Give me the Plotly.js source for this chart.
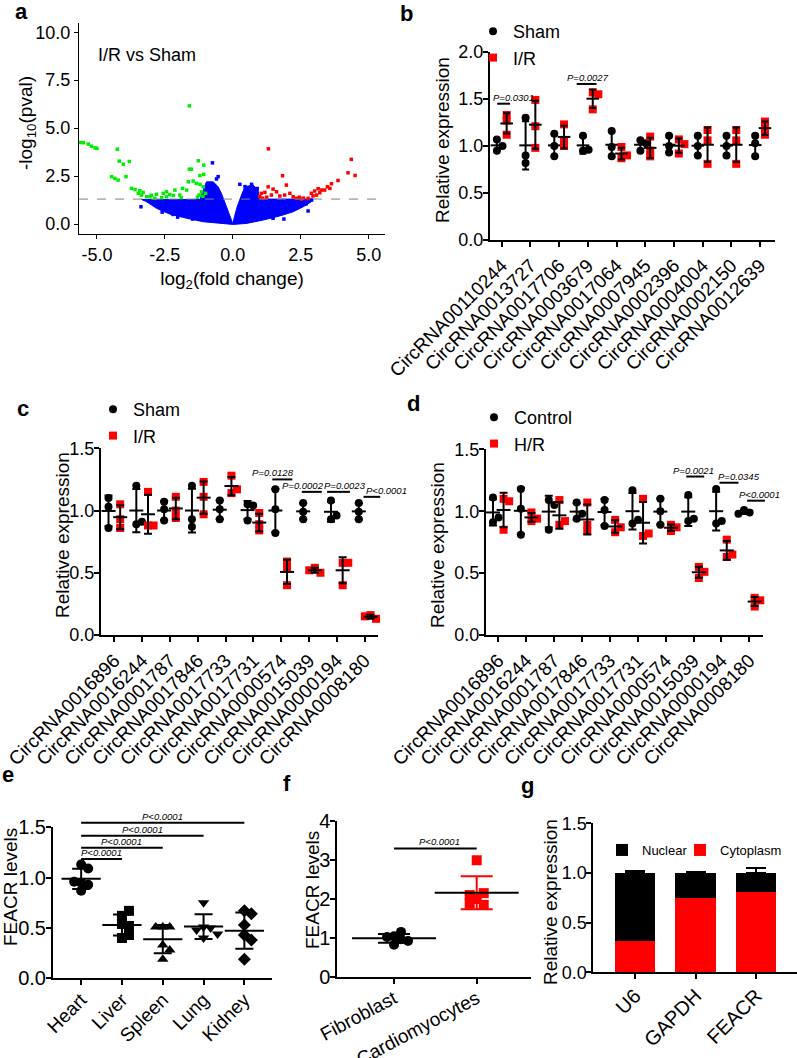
<!DOCTYPE html>
<html>
<head>
<meta charset="utf-8">
<script src="https://cdn.plot.ly/plotly-3.0.1.min.js"></script>
<style>
  html, body { margin: 0; padding: 0; background: #fff; }
  #fig { width: 797px; height: 1058px; }
</style>
</head>
<body>
<div id="fig"></div>
<script>
// ---------------- data ----------------

// a: volcano plot (I/R vs Sham)
var aTickVals = [-5, -2.5, 0, 2.5, 5];
var aTickText = ['-5.0', '-2.5', '0.0', '2.5', '5.0'];
var aYTickVals = [0, 2.5, 5, 7.5, 10];
var aYTickText = ['0.0', '2.5', '5.0', '7.5', '10.0'];
var pThreshold = 0.05;
// dense non-significant cloud, outline of the blue region
var coreX = [-3.36, -1.21, -1.09, -0.97, -0.72, -0.54, -0.42, -0.23, -0.09, 0, 0.06, 0.16, 0.32, 0.44, 0.75, 0.93, 0.99,
  2.89, 2.89, 2.59, 2.22, 1.73, 1.12, 0.50, 0, -0.48, -1.09, -1.70, -2.32, -2.81, -3.17, -3.36];
var coreY = [1.28, 1.28, 1.77, 2.20, 2.20, 1.94, 1.60, 0.90, 0.30, 0.02, 0.38, 0.90, 1.51, 1.94, 2.03, 1.77, 1.30,
  1.30, 1.16, 0.90, 0.64, 0.42, 0.21, 0.03, -0.02, 0.03, 0.12, 0.30, 0.52, 0.82, 1.16, 1.28];
var blueX = [-0.75, -0.54, 0.26, 0.69, -3.38, -2.03, -1.48, 1.88, 2.77, 1.48, -0.89, -0.97, -3.1, -2.6, -2.2, -0.6, 0.45, 0.9, 1.6, 2.3, 2.7, 2.9];
var blueY = [3.19, 2.47, 2.07, 2.07, 0.90, 0.36, 0.26, 0.26, 0.68, 0.30, 2.03, 1.94, 1.2, 0.62, 0.5, 2.35, 1.95, 1.85, 0.5, 0.9, 1.05, 1.25];
var greenX = [-5.62, -5.50, -5.32, -5.20, -5.07, -5.00, -4.25, -4.18, -4.03, -3.81, -4.46, -4.34, -4.22, -3.93, -3.73, -3.60,
  -3.42, -3.30, -3.48, -3.36, -3.17, -3.05, -2.81, -2.56, -2.44, -2.19, -1.95, -1.85, -1.64, -1.52, -1.60, -1.27, -1.07,
  -1.07, -1.21, -1.46, -1.34, -1.21, -1.09, -1.15, -1.24, -1.70, -2.13, -2.32, -2.44, -2.62, -2.87, -1.60, -1.1, -1.0, -1.3, -1.9, -3.0];
var greenY = [4.25, 4.24, 4.17, 4.06, 3.97, 3.94, 3.90, 3.28, 3.12, 3.26, 2.47, 2.38, 2.29, 2.47, 1.86, 1.80, 1.74, 1.65,
  1.60, 1.51, 1.42, 1.42, 1.55, 1.60, 1.68, 1.49, 1.51, 1.86, 2.20, 2.86, 2.86, 3.30, 3.07, 2.59, 2.53, 2.24, 2.12, 2.07,
  1.94, 1.68, 1.51, 1.77, 1.77, 1.53, 1.42, 1.37, 1.34, 6.16, 1.45, 1.6, 1.4, 1.38, 1.5];
var redX = [1.31, 4.36, 1.83, 4.24, 4.50, 3.87, 3.63, 3.48, 3.26, 3.14, 3.01, 2.89, 3.08, 2.95, 2.77, 2.52, 2.34, 1.48,
  1.30, 1.18, 1.05, 0.99, 1.61, 1.97, 2.10, 2.22, 1.91, 1.42, 1.73, 3.20, 3.38, 3.57, 1.1, 1.25, 2.6, 2.45];
var redY = [3.92, 3.37, 2.52, 2.67, 2.53, 2.27, 2.10, 1.94, 1.77, 1.84, 1.72, 1.60, 1.51, 1.46, 1.34, 1.30, 1.34, 1.82,
  1.94, 1.65, 1.60, 1.42, 1.68, 2.03, 1.60, 1.42, 1.51, 1.51, 1.46, 1.63, 1.77, 1.86, 1.35, 1.4, 1.35, 1.4];

// b: candidate circRNAs, Sham vs I/R (3 mice each)
var bCats = ['CircRNA00110244', 'CircRNA0013727', 'CircRNA0017706', 'CircRNA0003679', 'CircRNA0017064',
  'CircRNA0007945', 'CircRNA0002396', 'CircRNA0004004', 'CircRNA0002150', 'CircRNA0012639'];
var bSham = [[0.95, 1.07, 1.00], [1.30, 0.82, 0.90], [1.13, 1.00, 0.89], [1.11, 0.95, 0.96], [1.16, 0.89, 0.99],
  [1.06, 0.95, 1.03], [1.11, 0.93, 1.00], [1.11, 1.00, 0.90], [1.11, 1.00, 0.90], [1.11, 1.03, 0.89]];
var bIR = [[1.33, 1.27, 1.12], [1.49, 1.21, 0.98], [1.23, 1.06, 1.00], [1.57, 1.55, 1.39], [0.99, 0.87, 0.90],
  [1.10, 0.89, 0.95], [1.07, 0.92, 1.02], [1.17, 1.06, 0.81], [1.17, 1.06, 0.81], [1.26, 1.12, 1.19]];
var bSigGroup = [0, 3];
var bSigLevel = [1.45, 1.66];
var bSigText = ['P=0.0301', 'P=0.0027'];

// c: second set, Sham vs I/R
var cCats = ['CircRNA0016896', 'CircRNA0016244', 'CircRNA0001787', 'CircRNA0017846', 'CircRNA0017733',
  'CircRNA0017731', 'CircRNA0000574', 'CircRNA0015039', 'CircRNA0000194', 'CircRNA0008180'];
var cSham = [[1.10, 1.03, 0.86], [1.20, 0.89, 0.91], [1.07, 0.92, 1.01], [1.20, 0.87, 0.93], [1.08, 0.93, 1.01],
  [1.05, 0.92, 1.04], [1.17, 1.01, 0.82], [1.06, 0.93, 0.99], [1.08, 0.93, 0.96], [1.06, 0.93, 0.99]];
var cIR = [[1.05, 0.86, 0.93], [1.15, 0.88, 0.88], [1.11, 0.94, 1.00], [1.23, 1.11, 0.97], [1.28, 1.14, 1.17],
  [0.98, 0.84, 0.89], [0.59, 0.53, 0.40], [0.54, 0.50, 0.52], [0.58, 0.40, 0.58], [0.16, 0.13, 0.15]];
var cSigGroup = [6, 7, 8, 9];
var cSigLevel = [1.25, 1.15, 1.15, 1.11];
var cSigText = ['P=0.0128', 'P=0.0002', 'P=0.0023', 'P<0.0001'];

// d: same circRNAs, Control vs H/R cells
var dCtrl = [[1.11, 0.91, 0.95], [1.18, 1.02, 0.81], [1.09, 1.05, 0.85], [1.07, 0.94, 0.98], [1.09, 1.01, 0.88],
  [1.17, 0.90, 0.93], [1.10, 1.00, 0.89], [1.13, 0.92, 0.94], [1.18, 0.90, 0.92], [1.01, 0.99, 0.98]];
var dHR = [[1.10, 1.08, 0.85], [0.99, 0.92, 0.94], [1.09, 0.89, 0.92], [1.07, 0.84, 0.89], [0.93, 0.83, 0.87],
  [1.10, 0.80, 0.82], [0.89, 0.84, 0.87], [0.46, 0.55, 0.51], [0.77, 0.63, 0.65], [0.23, 0.30, 0.28]];
var dSigGroup = [7, 8, 9];
var dSigLevel = [1.28, 1.23, 1.085];
var dSigText = ['P=0.0021', 'P=0.0345', 'P<0.0001'];

// e: FEACR in tissues
var eCats = ['Heart', 'Liver', 'Spleen', 'Lung', 'Kidney'];
var eVals = [[1.13, 1.09, 0.95, 0.87, 0.93, 0.96], [0.62, 0.67, 0.54, 0.52, 0.40, 0.43],
  [0.51, 0.51, 0.51, 0.33, 0.28, 0.19], [0.75, 0.51, 0.50, 0.48, 0.40, 0.44], [0.67, 0.64, 0.53, 0.43, 0.38, 0.19]];
var eSigTo = [1, 2, 3, 4];
var eSigLevel = [1.186, 1.297, 1.415, 1.545];
var eSigText = ['P<0.0001', 'P<0.0001', 'P<0.0001', 'P<0.0001'];

// f: fibroblasts vs cardiomyocytes
var fCats = ['Fibroblast', 'Cardiomyocytes'];
var fFib = [1.05, 1.16, 1.03, 0.97, 0.83, 0.93];
var fCard = [2.99, 2.00, 2.15, 2.10, 1.85, 1.88];
var fSigLevel = 3.29;
var fSigText = 'P<0.0001';

// g: nuclear / cytoplasm fractions
var gCats = ['U6', 'GAPDH', 'FEACR'];
var gCyto = [0.32, 0.745, 0.805];
var gCytoErr = [0.02, 0.01, 0.05];
var gNuc = [0.68, 0.255, 0.195];
var gNucErr = [0.02, 0.01, 0.047];

// ---------------- helpers ----------------
var W = 797, H = 1058;
var FONT = 'Liberation Sans, Arial, sans-serif';
function domX(l, r) { return [l / W, r / W]; }
function domY(t, b) { return [1 - b / H, 1 - t / H]; }
function px(x) { return x / W; }
function py(y) { return 1 - y / H; }

// axis ranges per subplot (2 = b ... 7 = g)
var ranges = {
  2: { x: [-0.41, 9.52], y: [0, 2] },
  3: { x: [-0.48, 9.47], y: [0, 1.5] },
  4: { x: [-0.44, 9.5], y: [0, 1.5] },
  5: { x: [-0.69, 4.67], y: [0, 1.5] },
  6: { x: [-0.686, 1.653], y: [0, 4] },
  7: { x: [-0.69, 2.67], y: [0, 1.5] }
};
function frac(r, v) { return (v - r[0]) / (r[1] - r[0]); }

function mean(a) { return a.reduce(function (s, v) { return s + v; }, 0) / a.length; }
function sd(a) {
  var m = mean(a);
  return Math.sqrt(a.reduce(function (s, v) { return s + (v - m) * (v - m); }, 0) / (a.length - 1));
}

// spread overlapping dots sideways (like a scatter dot plot), offsets in category units
function swarm(vals, pxX, pxY, d) {
  var placed = [], step = 0.7 * d, lim = 0.7 * d;
  return vals.map(function (v) {
    for (var k = 0; k < 40; k++) {
      var off = (k % 2 ? 1 : -1) * Math.ceil(k / 2) * step;
      var free = placed.every(function (p) {
        var ex = p.off - off, ey = (p.v - v) * pxY;
        return ex * ex + ey * ey >= lim * lim;
      });
      if (free) { placed.push({ off: off, v: v }); return off / pxX; }
    }
    return 0;
  });
}

var traces = [], shapes = [], annotations = [];

// points + mean line + SD bars for one series
function dotSeries(n, groups, center, st, pxX, pxY, legend, name) {
  var xs = [], ys = [], mx = [], my = [], me = [];
  groups.forEach(function (vals, i) {
    var offs = swarm(vals, pxX, pxY, st.size);
    vals.forEach(function (v, j) { xs.push(i + center + offs[j]); ys.push(v); });
    mx.push(i + center); my.push(mean(vals)); me.push(sd(vals));
  });
  var pts = {
    type: 'scatter', mode: 'markers', x: xs, y: ys, xaxis: 'x' + n, yaxis: 'y' + n, name: name,
    marker: { symbol: st.symbol, size: st.size, color: st.color }, showlegend: !!legend, cliponaxis: false
  };
  if (legend) pts.legend = legend;
  var sum = {
    type: 'scatter', mode: 'markers', x: mx, y: my, xaxis: 'x' + n, yaxis: 'y' + n, showlegend: false, cliponaxis: false,
    marker: { symbol: 'line-ew', size: st.meanLen, color: 'black', line: { width: 2, color: 'black' } },
    error_y: { type: 'data', array: me, color: st.errColor || 'black', thickness: 2, width: st.cap }
  };
  traces.push(pts, sum);
}

// significance bar + italic p value above it (domain refs so they may sit above the axis top)
function sigBar(n, x0, x1, lvl, label, tx) {
  var r = ranges[n], yf = frac(r.y, lvl);
  shapes.push({ type: 'line', xref: 'x' + n + ' domain', yref: 'y' + n + ' domain',
    x0: frac(r.x, x0), x1: frac(r.x, x1), y0: yf, y1: yf, line: { color: 'black', width: 2 } });
  annotations.push({ xref: 'x' + n + ' domain', yref: 'y' + n + ' domain', x: frac(r.x, tx), y: yf,
    xanchor: 'center', yanchor: 'bottom', yshift: -1, showarrow: false,
    text: '<i>' + label.replace('<', '&lt;') + '</i>', font: { size: 9.5, color: 'black' } });
}

function baseAxis(o) {
  return Object.assign({
    showgrid: false, zeroline: false, showline: true, linecolor: 'black', linewidth: 2,
    ticks: 'outside', ticklen: 5, tickwidth: 2, tickcolor: 'black',
    tickfont: { size: 18, color: 'black' }, fixedrange: true
  }, o);
}
function catAxis(n, dom, anchor, cats, angle, size, standoff) {
  return baseAxis({
    domain: dom, range: ranges[n].x, anchor: anchor, tickangle: angle, ticklabelstandoff: standoff || 0,
    tickvals: cats.map(function (c, i) { return i; }), ticktext: cats, tickfont: { size: size, color: 'black' }
  });
}
function valAxis(n, dom, anchor, dtick, fmt, size) {
  return baseAxis({
    domain: dom, range: ranges[n].y, anchor: anchor, dtick: dtick, tick0: 0, tickformat: fmt,
    ticklabelstandoff: -4, tickfont: { size: size, color: 'black' }
  });
}

// rotated y-axis titles, placed like the original
function yTitle(text, x, y) {
  annotations.push({ xref: 'paper', yref: 'paper', x: px(x), y: py(y), xanchor: 'center', yanchor: 'middle',
    textangle: -90, text: text, showarrow: false, font: { size: 19, color: 'black' } });
}

var blackDot = { symbol: 'circle', color: 'black' };
var redSquare = { symbol: 'square', color: '#ff0000' };
function st(base, o) { return Object.assign({}, base, o); }

// ---------- a ----------
traces.push({
  type: 'scatter', mode: 'lines', x: coreX, y: coreY, fill: 'toself', fillcolor: '#0000ff',
  line: { color: '#0000ff', width: 1 }, xaxis: 'x', yaxis: 'y', showlegend: false
});
traces.push({ type: 'scatter', mode: 'markers', x: blueX, y: blueY, xaxis: 'x', yaxis: 'y', showlegend: false,
  marker: { symbol: 'square', size: 3.5, color: '#0000ff' } });
traces.push({ type: 'scatter', mode: 'markers', x: greenX, y: greenY, xaxis: 'x', yaxis: 'y', showlegend: false,
  marker: { symbol: 'square', size: 3.5, color: '#00ee00' } });
traces.push({ type: 'scatter', mode: 'markers', x: redX, y: redY, xaxis: 'x', yaxis: 'y', showlegend: false,
  marker: { symbol: 'square', size: 3.5, color: '#ff0000' } });
shapes.push({ type: 'line', xref: 'x domain', yref: 'y', x0: 0, x1: 1, y0: -Math.log10(pThreshold), y1: -Math.log10(pThreshold),
  line: { color: '#808080', width: 1, dash: 'dash' } });
annotations.push({ xref: 'paper', yref: 'paper', x: px(96), y: py(55), xanchor: 'left', yanchor: 'middle',
  text: 'I/R vs Sham', showarrow: false, font: { size: 18, color: 'black' } });
yTitle('-log<sub>10</sub>(pval)', 27, 123);

// ---------- b ----------
dotSeries(2, bSham, -0.17, st(blackDot, { size: 8, meanLen: 9, cap: 3.5 }), 28.7, 94, 'legend2', 'Sham');
dotSeries(2, bIR, 0.17, st(redSquare, { size: 8, meanLen: 9, cap: 3.5 }), 28.7, 94, 'legend2', 'I/R');
var bSigPlace = [[-0.16, 0.29, 0.41], [-0.39, 0.3, 0]]; // line start, line end, label centre (category units)
bSigGroup.forEach(function (g, k) {
  var p = bSigPlace[k];
  sigBar(2, g + p[0], g + p[1], bSigLevel[k], bSigText[k], g + p[2]);
});
yTitle('Relative expression', 443, 140);

// ---------- c ----------
dotSeries(3, cSham, -0.21, st(blackDot, { size: 8, meanLen: 10, cap: 4 }), 27.8, 124.4, 'legend3', 'Sham');
dotSeries(3, cIR, 0.21, st(redSquare, { size: 8, meanLen: 10, cap: 4 }), 27.8, 124.4, 'legend3', 'I/R');
var cSigPlace = [[-0.32, 0.4, -0.3], [-0.26, 0.46, -0.2], [-0.35, 0.47, 0.3], [-0.04, 0.56, 0.78]];
cSigGroup.forEach(function (g, k) {
  var p = cSigPlace[k];
  sigBar(3, g + p[0], g + p[1], cSigLevel[k], cSigText[k], g + p[2]);
});
yTitle('Relative expression', 62, 535);

// ---------- d ----------
dotSeries(4, dCtrl, -0.19, st(blackDot, { size: 8, meanLen: 10, cap: 4 }), 27.9, 124.4, 'legend4', 'Control');
dotSeries(4, dHR, 0.19, st(redSquare, { size: 8, meanLen: 10, cap: 4 }), 27.9, 124.4, 'legend4', 'H/R');
var dSigPlace = [[-0.26, 0.38, 0], [-0.07, 0.61, 0.63], [-0.08, 0.56, 0.37]];
dSigGroup.forEach(function (g, k) {
  var p = dSigPlace[k];
  sigBar(4, g + p[0], g + p[1], dSigLevel[k], dSigText[k], g + p[2]);
});
yTitle('Relative expression', 437, 545);

// ---------- e ----------
var eSymbols = ['circle', 'square', 'triangle-up', 'triangle-down', 'diamond'];
eVals.forEach(function (vals, i) {
  dotSeries(5, [vals], i, { symbol: eSymbols[i], color: 'black', size: 10, meanLen: 28, cap: 9 }, 40.8, 102);
});
eSigTo.forEach(function (t, k) { sigBar(5, 0, t, eSigLevel[k], eSigText[k], t / 2); });
yTitle('FEACR levels', 10, 887);

// ---------- f ----------
dotSeries(6, [fFib], 0, st(blackDot, { size: 10, meanLen: 60, cap: 16 }), 82.7, 39.2);
dotSeries(6, [fCard], 1, st(redSquare, { size: 10, meanLen: 60, cap: 16, errColor: '#ff0000' }), 82.7, 39.2);
sigBar(6, 0, 1, fSigLevel, fSigText, 0.55);
yTitle('FEACR levels', 312, 890);

// ---------- g ----------
var noMinus = gCats.map(function () { return 0; });
traces.push({
  type: 'bar', x: [0, 1, 2], y: gCyto, xaxis: 'x7', yaxis: 'y7', name: 'Cytoplasm', width: 0.67,
  marker: { color: '#ff0000' }, legend: 'legend6',
  error_y: { type: 'data', symmetric: false, array: gCytoErr, arrayminus: noMinus, color: '#ff0000', thickness: 2, width: 8 }
});
traces.push({
  type: 'bar', x: [0, 1, 2], y: gNuc, xaxis: 'x7', yaxis: 'y7', name: 'Nuclear', width: 0.67,
  marker: { color: 'black' }, legend: 'legend5',
  error_y: { type: 'data', symmetric: false, array: gNucErr, arrayminus: noMinus, color: 'black', thickness: 2, width: 10 }
});
yTitle('Relative expression', 550, 902);

// panel letters
[['a', 21, 12], ['b', 407, 13], ['c', 23, 408], ['d', 413, 403], ['e', 8, 774], ['f', 287, 783], ['g', 527, 785]].forEach(function (p) {
  annotations.push({ xref: 'paper', yref: 'paper', x: px(p[1]), y: py(p[2]), xanchor: 'center', yanchor: 'middle',
    text: '<b>' + p[0] + '</b>', showarrow: false, font: { size: 22, color: 'black' } });
});

var legendBase = { bgcolor: 'rgba(0,0,0,0)', borderwidth: 0, xanchor: 'left', yanchor: 'top', font: { size: 18, color: 'black' } };

var layout = {
  width: W, height: H, margin: { l: 0, r: 0, t: 0, b: 0 },
  paper_bgcolor: 'white', plot_bgcolor: 'rgba(0,0,0,0)',
  font: { family: FONT, color: 'black' }, hovermode: false, barmode: 'stack',
  showlegend: true,
  xaxis: baseAxis({ domain: domX(79, 385), range: [-5.66, 5.6], anchor: 'y', linewidth: 1, tickwidth: 1, ticklen: 4,
    tickvals: aTickVals, ticktext: aTickText, title: { text: 'log<sub>2</sub>(fold change)', font: { size: 19 }, standoff: 8 } }),
  yaxis: baseAxis({ domain: domY(23, 234), range: [-0.52, 10.48], anchor: 'x', linewidth: 1, tickwidth: 1, ticklen: 4,
    tickvals: aYTickVals, ticktext: aYTickText }),
  xaxis2: catAxis(2, domX(490, 775), 'y2', bCats, -45, 19),
  yaxis2: valAxis(2, domY(52, 240), 'x2', 0.5, '.1f', 18),
  xaxis3: catAxis(3, domX(101, 377.7), 'y3', cCats, -45, 19),
  yaxis3: valAxis(3, domY(448.3, 635), 'x3', 0.5, '.1f', 18),
  xaxis4: catAxis(4, domX(486, 763.3), 'y4', cCats, -45, 19),
  yaxis4: valAxis(4, domY(449.3, 635), 'x4', 0.5, '.1f', 18),
  xaxis5: catAxis(5, domX(53, 271.7), 'y5', eCats, -45, 19, -4),
  yaxis5: valAxis(5, domY(827.3, 978.3), 'x5', 0.5, '.1f', 20),
  xaxis6: catAxis(6, domX(337.3, 530.7), 'y6', fCats, -28, 19, -4),
  yaxis6: valAxis(6, domY(820.7, 977.3), 'x6', 1, 'd', 20),
  xaxis7: catAxis(7, domX(593.3, 796.7), 'y7', gCats, -45, 20, -3),
  yaxis7: valAxis(7, domY(823.3, 972.3), 'x7', 0.5, '.1f', 18),
  legend: { visible: false },
  legend2: Object.assign({}, legendBase, { x: px(473), y: py(13) }),
  legend3: Object.assign({}, legendBase, { x: px(93), y: py(391) }),
  legend4: Object.assign({}, legendBase, { x: px(474), y: py(399) }),
  legend5: Object.assign({}, legendBase, { x: px(602), y: py(835), font: { size: 13, color: 'black' } }),
  legend6: Object.assign({}, legendBase, { x: px(680), y: py(835), font: { size: 13, color: 'black' } }),
  shapes: shapes,
  annotations: annotations
};

Plotly.newPlot('fig', traces, layout, { staticPlot: true });
</script>
</body>
</html>
